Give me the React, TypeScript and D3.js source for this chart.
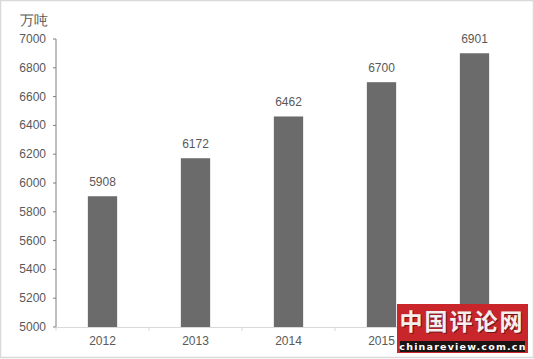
import React from "react";
import * as d3 from "d3";

const categories = ["2012", "2013", "2014", "2015", "2016"];
const values = [5908, 6172, 6462, 6700, 6901];
const yTicks = [5000, 5200, 5400, 5600, 5800, 6000, 6200, 6400, 6600, 6800, 7000];
const unitLabel = "万吨";
const logoTitle = "中国评论网";
const logoUrl = "chinareview.com.cn";

export default function App() {
  const W = 534, H = 359;
  const left = 56, right = 521, top = 39, bottom = 327;
  const x = d3.scaleBand<string>().domain(categories).range([left, right]).paddingInner(0).paddingOuter(0);
  const y = d3.scaleLinear().domain([5000, 7000]).range([bottom, top]);
  const bw = x.bandwidth() * 0.315;
  const font = "'Liberation Sans', Arial, sans-serif";
  const txt = "#595959";
  return (
    <svg width={W} height={H} style={{ position: "absolute", left: 0, top: 0 }} fontFamily={font}>
      <rect x={0.5} y={0.5} width={W - 1} height={H - 2} fill="#fff" stroke="#d9d9d9" strokeWidth={1.5} />
      <text x={20} y={25} fontSize={14} fill={txt}>{unitLabel}</text>
      {/* y axis */}
      <line x1={left} x2={left} y1={y(7000)} y2={bottom} stroke="#7f7f7f" strokeWidth={1} />
      {yTicks.map((t) => (
        <g key={t}>
          <line x1={left - 3} x2={left} y1={y(t)} y2={y(t)} stroke="#7f7f7f" />
          <text x={46} y={y(t) + 4} fontSize={12} textAnchor="end" fill={txt}>{t}</text>
        </g>
      ))}
      {/* bars */}
      {categories.map((c, i) => {
        const cx = (x(c) as number) + x.bandwidth() / 2;
        return (
          <g key={c}>
            <rect x={cx - bw / 2} y={y(values[i])} width={bw} height={bottom - y(values[i])} fill="#6b6b6b" />
            <text x={cx} y={y(values[i]) - 10} fontSize={12} textAnchor="middle" fill={txt}>{values[i]}</text>
            <text x={cx} y={345} fontSize={12} textAnchor="middle" fill={txt}>{c}</text>
          </g>
        );
      })}
      {/* x axis */}
      <line x1={left} x2={right} y1={bottom + 0.5} y2={bottom + 0.5} stroke="#d9d9d9" />
      {categories.map((c) => (
        <line key={c} x1={(x(c) as number)} x2={(x(c) as number)} y1={bottom} y2={bottom + 4} stroke="#d9d9d9" />
      ))}
      <line x1={right} x2={right} y1={bottom} y2={bottom + 4} stroke="#d9d9d9" />
      {/* watermark logo */}
      <g>
        <rect x={397} y={304} width={131} height={49} fill="#c8262a" />
        <rect x={400} y={341} width={125} height={11} fill="#1a1414" />
        <text x={463} y={331} fontSize={23} fontWeight="bold" textAnchor="middle" fill="#3a0a0a" opacity={0.6} letterSpacing={2} fontFamily="'Noto Sans CJK SC', sans-serif">{logoTitle}</text>
        <text x={462} y={330} fontSize={23} fontWeight="bold" textAnchor="middle" fill="#f4eeee" letterSpacing={2} fontFamily="'Noto Sans CJK SC', sans-serif">{logoTitle}</text>
        <text x={463} y={350} fontSize={9.5} fontWeight="bold" textAnchor="middle" fill="#ffffff" letterSpacing={1.2} fontFamily="'DejaVu Sans', sans-serif">{logoUrl}</text>
      </g>
    </svg>
  );
}
